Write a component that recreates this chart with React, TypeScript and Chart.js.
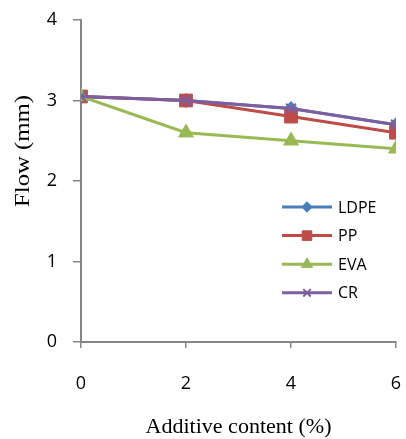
import React, { useEffect, useRef } from "react";
import { Chart, registerables } from "chart.js";
import { drawPoint } from "chart.js/helpers";

Chart.register(...registerables);

const additive = [0, 2, 4, 6];
const ldpe = [3.05, 3.0, 2.9, 2.7];
const pp = [3.05, 3.0, 2.8, 2.6];
const eva = [3.05, 2.6, 2.5, 2.4];
const cr = [3.05, 3.0, 2.9, 2.7];
const seriesNames = ["LDPE", "PP", "EVA", "CR"];
const seriesColors = ["#4A7EBB", "#BE4B48", "#98B954", "#7D5FA0"];
const seriesMarkers = ["rectRot", "rect", "triangle", "crossRot"];
const markerRadius = [7, 9, 8.5, 7];
const xTitle = "Additive content (%)";
const yTitle = "Flow (mm)";

const PLOT_LEFT = 81;
const PLOT_BOTTOM_GAP = 97;

const decorPlugin = {
  id: "decor",
  afterDraw(chart: any) {
    const ctx = chart.ctx;
    const area = chart.chartArea;
    ctx.save();
    // legend inside plot
    const x0 = area.right - 114;
    const y0 = area.top + 187;
    const step = 28.6;
    chart.data.datasets.forEach((ds: any, i: number) => {
      const y = y0 + i * step;
      ctx.strokeStyle = ds.borderColor;
      ctx.lineWidth = 3;
      ctx.beginPath();
      ctx.moveTo(x0, y);
      ctx.lineTo(x0 + 50, y);
      ctx.stroke();
      ctx.fillStyle = ds.pointBackgroundColor;
      ctx.strokeStyle = ds.pointBorderColor;
      ctx.lineWidth = ds.pointBorderWidth;
      drawPoint(ctx, { pointStyle: ds.pointStyle, radius: ds.pointRadius * 0.75, borderWidth: ds.pointBorderWidth, rotation: 0 }, x0 + 25, y);
      ctx.fillStyle = "#000";
      ctx.font = "16px 'Open Sans'";
      ctx.textBaseline = "middle";
      ctx.textAlign = "left";
      ctx.fillText(ds.label, x0 + 56, y + 1);
    });
    // axis titles
    ctx.fillStyle = "#000";
    ctx.textAlign = "center";
    ctx.textBaseline = "middle";
    ctx.font = "20px 'Liberation Serif'";
    const xw = ctx.measureText(xTitle).width;
    ctx.save();
    ctx.translate((area.left + area.right) / 2, 428);
    ctx.scale(186 / xw, 1);
    ctx.fillText(xTitle, 0, 0);
    ctx.restore();
    ctx.font = "21px 'Liberation Serif'";
    const yw = ctx.measureText(yTitle).width;
    ctx.save();
    ctx.translate(23, 151);
    ctx.rotate(-Math.PI / 2);
    ctx.scale(112 / yw, 1);
    ctx.fillText(yTitle, 0, 0);
    ctx.restore();
    ctx.restore();
  },
};

export default function App() {
  const ref = useRef<HTMLCanvasElement>(null);
  useEffect(() => {
    const series = [ldpe, pp, eva, cr];
    const chart = new Chart(ref.current!, {
      type: "line",
      data: {
        datasets: series.map((vals, i) => ({
          label: seriesNames[i],
          data: vals.map((v, j) => ({ x: additive[j], y: v })),
          borderColor: seriesColors[i],
          backgroundColor: seriesColors[i],
          pointBackgroundColor: seriesColors[i],
          pointBorderColor: seriesColors[i],
          pointBorderWidth: seriesMarkers[i] === "crossRot" ? 2 : 1,
          pointStyle: seriesMarkers[i],
          pointRadius: markerRadius[i],
          borderWidth: 3,
          tension: 0,
          order: 4 - i,
        })),
      },
      options: {
        animation: false,
        responsive: false,
        layout: { padding: { top: 20, right: 9, left: 0, bottom: 0 } },
        plugins: { legend: { display: false }, tooltip: { enabled: false } },
        scales: {
          x: {
            type: "linear",
            min: 0,
            max: 6,
            ticks: { stepSize: 2, color: "#000", font: { family: "'Open Sans'", size: 18 }, padding: 25 },
            grid: { drawOnChartArea: false, drawTicks: true, tickLength: 6, color: "#868686", lineWidth: 1.5 },
            border: { color: "#868686", width: 2 },
            afterFit: (s: any) => {
              s.paddingLeft = 0;
              s.paddingRight = 0;
              s.height = PLOT_BOTTOM_GAP;
            },
          },
          y: {
            min: 0,
            max: 4,
            ticks: { stepSize: 1, color: "#000", font: { family: "'Open Sans'", size: 18 }, padding: 16 },
            grid: { drawOnChartArea: false, drawTicks: true, tickLength: 8, color: "#868686", lineWidth: 1.5 },
            border: { color: "#868686", width: 2 },
            afterFit: (s: any) => {
              s.paddingTop = 0;
              s.paddingBottom = 0;
              s.width = PLOT_LEFT;
            },
          },
        },
      },
      plugins: [decorPlugin],
    });
    return () => chart.destroy();
  }, []);
  return (
    <div style={{ position: "fixed", left: 0, top: 0, width: 406, height: 439, background: "#fff" }}>
      <canvas ref={ref} width={406} height={439} />
    </div>
  );
}
